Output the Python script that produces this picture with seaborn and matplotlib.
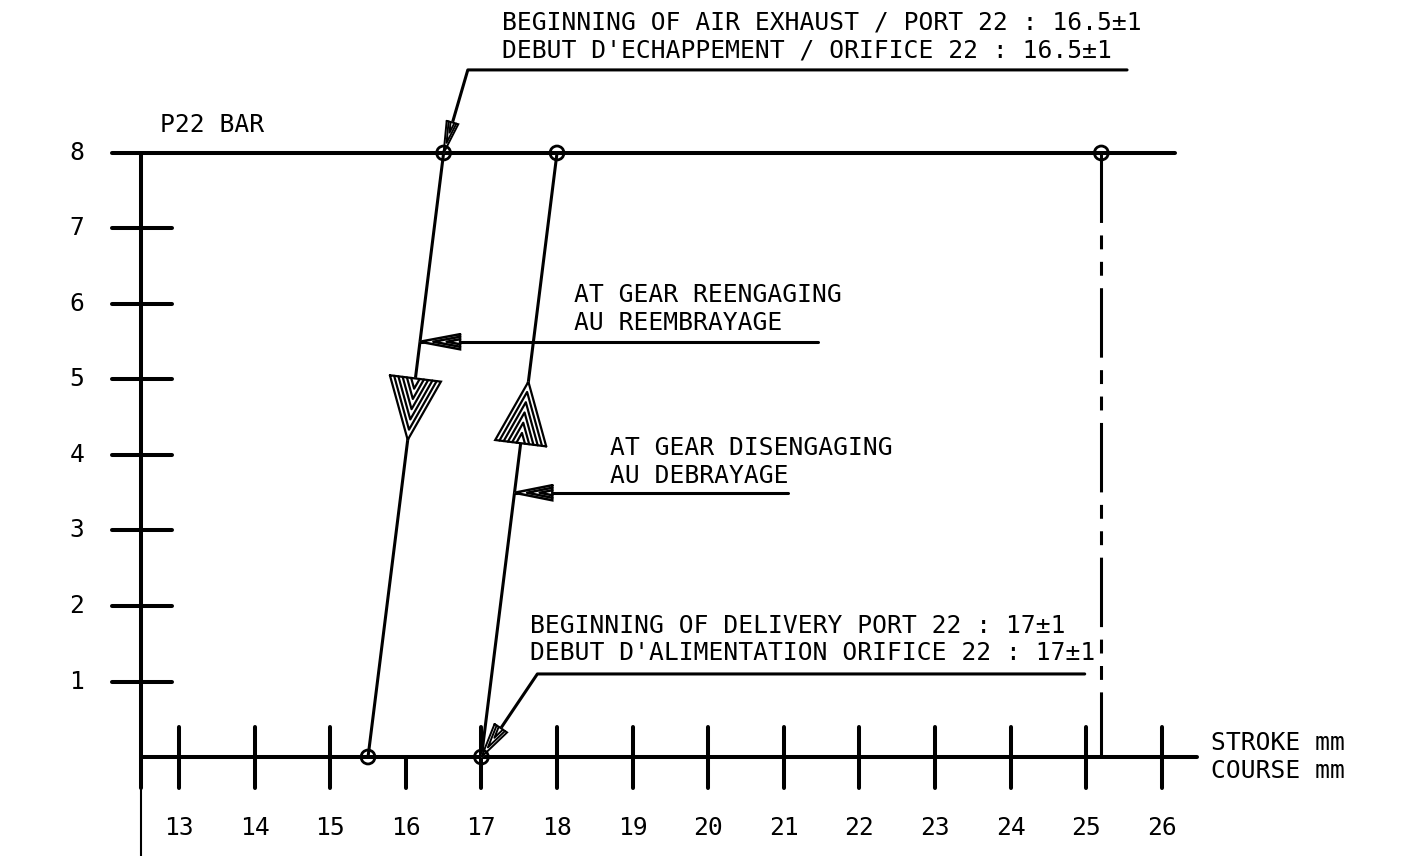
import numpy as np
import matplotlib
matplotlib.use("Agg")
import matplotlib.pyplot as plt
import seaborn as sns

# P22 pressure vs stroke characteristic
pressure = [0, 8]
stroke_reengaging = [15.5, 16.5]   # exhaust curve (downward arrow)
stroke_disengaging = [17, 18]      # delivery curve (upward arrow)
stroke_max = 25.2

point_x = [16.5, 18, 25.2, 15.5, 17]
point_y = [8, 8, 8, 0, 0]

x_ticks = list(range(13, 27))
x_ticks_full = [t for t in x_ticks if t != 16]
y_ticks = list(range(1, 9))

label_exhaust = ["BEGINNING OF AIR EXHAUST / PORT 22 : 16.5±1",
                 "DEBUT D'ECHAPPEMENT / ORIFICE 22 : 16.5±1"]
label_reeng = ["AT GEAR REENGAGING", "AU REEMBRAYAGE"]
label_diseng = ["AT GEAR DISENGAGING", "AU DEBRAYAGE"]
label_delivery = ["BEGINNING OF DELIVERY PORT 22 : 17±1",
                  "DEBUT D'ALIMENTATION ORIFICE 22 : 17±1"]
x_title = ["STROKE mm", "COURSE mm"]
y_title = "P22 BAR"

sns.set_style("white")
plt.rcParams["font.family"] = ["DejaVu Sans Mono", "DejaVu Sans"]
plt.rcParams["lines.scale_dashes"] = False
plt.rcParams["text.color"] = "black"

fig = plt.figure(figsize=(14.02, 8.56), dpi=100)
ax = fig.add_axes([0, 0, 1, 1])
ax.set_xlim(10.632, 29.177)
ax.set_ylim(-1.311, 10.026)
ax.axis("off")

K = "black"
AX_LW = 2.9
fs = 17.7


def hatched_head(tip, tail, length, half, n=4, lw=1.5):
    tip = np.array(tip, float)
    u = np.array(tail, float) - tip
    u /= np.linalg.norm(u)
    p = np.array([-u[1], u[0]])
    base = tip + u * length
    pts = np.array([base + p * half, tip, base - p * half, base + p * half])
    ax.fill(pts[:, 0], pts[:, 1], color="white", zorder=4)
    ax.plot(pts[:, 0], pts[:, 1], color=K, lw=lw, zorder=5, solid_joinstyle="miter")
    for k in range(1, n):
        v = tip + u * length * k / n
        w = half * (1 - k / n)
        ax.plot([base[0] + p[0] * w, v[0], base[0] - p[0] * w],
                [base[1] + p[1] * w, v[1], base[1] - p[1] * w],
                color=K, lw=lw, zorder=5)


# axes frame
ax.plot([12.114, 26.17], [8, 8], color=K, lw=AX_LW)
ax.plot([12.5, 26.47], [0, 0], color=K, lw=AX_LW)
ax.plot([12.5, 12.5], [8, -0.41], color=K, lw=AX_LW)
ax.plot([12.5, 12.5], [-0.41, -1.311], color=K, lw=1.5)
for y in y_ticks[:-1]:
    ax.plot([12.114, 12.907], [y, y], color=K, lw=AX_LW)
for x in x_ticks_full:
    ax.plot([x, x], [0.40, -0.41], color=K, lw=AX_LW)
ax.plot([16, 16], [0, -0.41], color=K, lw=AX_LW)

for y in y_ticks:
    ax.text(11.65, y, str(y), ha="center", va="center", fontsize=fs)
for x in x_ticks:
    ax.text(x, -0.94, str(x), ha="center", va="center", fontsize=fs)

ax.text(12.75, 8.28, y_title, fontsize=fs, va="baseline")
ax.text(26.65, 0.09, x_title[0], fontsize=fs, va="baseline")
ax.text(26.65, -0.28, x_title[1], fontsize=fs, va="baseline")

# max stroke dash-dot line
ax.plot([stroke_max, stroke_max], [8, 0], color=K, lw=2.2,
        linestyle=(0, (50, 9, 10, 9, 10, 9)))

# characteristic lines
sns.lineplot(x=stroke_reengaging, y=pressure, ax=ax, color=K, lw=2.2)
sns.lineplot(x=stroke_disengaging, y=pressure, ax=ax, color=K, lw=2.2)

# direction arrows on curves
y_tip = 4.2
tip = (np.interp(y_tip, pressure, stroke_reengaging), y_tip)
tail = (stroke_reengaging[1], pressure[1])
hatched_head(tip, tail, 0.82, 0.34, n=6, lw=1.6)
y_tip = 4.97
tip = (np.interp(y_tip, pressure, stroke_disengaging), y_tip)
tail = (stroke_disengaging[0], pressure[0])
hatched_head(tip, tail, 0.82, 0.34, n=6, lw=1.6)

# points
sns.scatterplot(x=point_x, y=point_y, ax=ax, s=100, facecolor="none",
                edgecolor=K, linewidth=2.0, zorder=6)

# leader: air exhaust
ax.text(17.27, 9.63, label_exhaust[0], fontsize=fs, va="baseline")
ax.text(17.27, 9.26, label_exhaust[1], fontsize=fs, va="baseline")
ax.plot([16.5, 16.82, 25.54], [8, 9.10, 9.10], color=K, lw=2.2)
hatched_head((16.5, 8), (16.82, 9.10), 0.42, 0.08, n=3, lw=1.4)

# leader: reengaging
y_lead = 5.5
x_lead = np.interp(y_lead, pressure, stroke_reengaging)
ax.text(18.22, 6.03, label_reeng[0], fontsize=fs, va="baseline")
ax.text(18.22, 5.66, label_reeng[1], fontsize=fs, va="baseline")
ax.plot([x_lead, 21.45], [y_lead, y_lead], color=K, lw=2.2)
hatched_head((x_lead, y_lead), (21.45, y_lead), 0.53, 0.1, n=3, lw=1.8)

# leader: disengaging
y_lead = 3.5
x_lead = np.interp(y_lead, pressure, stroke_disengaging)
ax.text(18.70, 4.0, label_diseng[0], fontsize=fs, va="baseline")
ax.text(18.70, 3.63, label_diseng[1], fontsize=fs, va="baseline")
ax.plot([x_lead, 21.06], [y_lead, y_lead], color=K, lw=2.2)
hatched_head((x_lead, y_lead), (21.06, y_lead), 0.5, 0.1, n=3, lw=1.8)

# leader: delivery
ax.text(17.64, 1.64, label_delivery[0], fontsize=fs, va="baseline")
ax.text(17.64, 1.28, label_delivery[1], fontsize=fs, va="baseline")
ax.plot([17, 17.74, 24.98], [0, 1.10, 1.10], color=K, lw=2.2)
hatched_head((17, 0), (17.74, 1.10), 0.46, 0.1, n=3, lw=1.4)

fig.savefig("out.png", dpi=100)
